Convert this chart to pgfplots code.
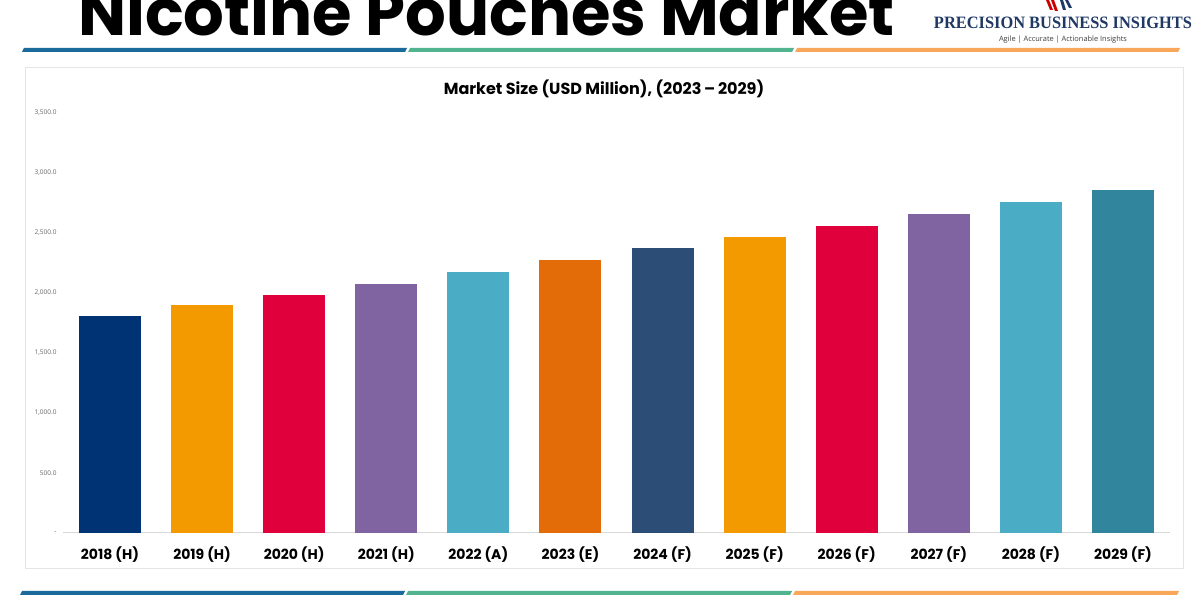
\documentclass[border=0pt]{standalone}
\usepackage{pgfplots}
\pgfplotsset{compat=1.18}
\usepackage{fontspec}
\setmainfont{Poppins}
\newfontfamily\serifb{Liberation Serif}
\newfontfamily\osans{Open Sans}
\definecolor{c1}{HTML}{003373}
\definecolor{c2}{HTML}{F29A00}
\definecolor{c3}{HTML}{E0003C}
\definecolor{c4}{HTML}{8064A2}
\definecolor{c5}{HTML}{4BACC6}
\definecolor{c6}{HTML}{E36C09}
\definecolor{c7}{HTML}{2C4D75}
\definecolor{c12}{HTML}{31859C}
\definecolor{lblue}{HTML}{1B6A9C}
\definecolor{lgreen}{HTML}{52B48E}
\definecolor{lorange}{HTML}{F7A65A}
\definecolor{logonavy}{HTML}{1F3864}
\begin{document}
\begin{tikzpicture}[x=1pt,y=1pt]
\useasboundingbox (0,0) rectangle (1200,600);
\fill[white] (0,0) rectangle (1200,600);
% main title (cut off at top, as in the reference)
\node[anchor=base west,inner sep=0pt,font=\fontsize{64}{70}\selectfont\bfseries] at (78,564) {Nicotine Pouches Market};
% logo
\fill[red!80!black] (1046,600) -- (1050,590) -- (1053,590) -- (1049,600) -- cycle;
\fill[red!80!black] (1051,600) -- (1055,589) -- (1058,589) -- (1054,600) -- cycle;
\fill[logonavy] (1060,600) -- (1063,590) -- (1066,590) -- (1063,600) -- cycle;
\fill[logonavy] (1065,600) -- (1069,592) -- (1072,592) -- (1068,600) -- cycle;
\node[anchor=base,inner sep=0pt,text=logonavy] at (1063,571) {\resizebox{258pt}{11.5pt}{\serifb\bfseries PRECISION BUSINESS INSIGHTS}};
\node[anchor=base,inner sep=0pt,text=black!75] at (1063,558.5) {\resizebox{128pt}{!}{\osans\fontsize{7}{8}\selectfont Agile | Accurate | Actionable Insights}};
% top lines
\fill[lblue] (22,548) -- (405,548) -- (407,552) -- (24,552) -- cycle;
\fill[lgreen] (408,548) -- (792,548) -- (794,552) -- (410,552) -- cycle;
\fill[lorange] (795,548) -- (1178,548) -- (1180,552) -- (797,552) -- cycle;
% bottom lines
\fill[lblue] (20,5) -- (403,5) -- (405,9) -- (22,9) -- cycle;
\fill[lgreen] (406,5) -- (790,5) -- (792,9) -- (408,9) -- cycle;
\fill[lorange] (793,5) -- (1177,5) -- (1179,9) -- (795,9) -- cycle;
% chart box
\draw[black!10,line width=0.8pt] (25,32) rectangle (1183,533);
% chart title
\node[anchor=center,inner sep=0pt,font=\fontsize{16}{18}\selectfont\bfseries] at (604,511) {Market Size (USD Million), (2023\,--\,2029)};
\begin{axis}[
  at={(63pt,67pt)}, anchor=south west,
  scale only axis, width=1107pt, height=420pt,
  xmin=-0.51, xmax=11.51, ymin=0, ymax=3500,
  ybar, bar width=62pt, bar shift=0pt,
  axis x line*=bottom, axis y line*=left,
  x axis line style={draw=black!15,line width=1pt,-},
  y axis line style={draw=none},
  major tick length=0pt,
  xtick={0,...,11},
  xticklabels={2018 (H),2019 (H),2020 (H),2021 (H),2022 (A),2023 (E),2024 (F),2025 (F),2026 (F),2027 (F),2028 (F),2029 (F)},
  xticklabel style={font=\fontsize{14}{16}\selectfont\bfseries, yshift=-10pt},
  ytick={0,500,...,3500},
  yticklabels={-,500.0,{1,000.0},{1,500.0},{2,000.0},{2,500.0},{3,000.0},{3,500.0}},
  yticklabel style={font=\osans\fontsize{6.5}{7}\selectfont, text=black!60, xshift=-3pt},
  clip=false,
]
\addplot[fill=c1,draw=none] coordinates {(0,1808)};
\addplot[fill=c2,draw=none] coordinates {(1,1896)};
\addplot[fill=c3,draw=none] coordinates {(2,1983)};
\addplot[fill=c4,draw=none] coordinates {(3,2075)};
\addplot[fill=c5,draw=none] coordinates {(4,2175)};
\addplot[fill=c6,draw=none] coordinates {(5,2271)};
\addplot[fill=c7,draw=none] coordinates {(6,2375)};
\addplot[fill=c2,draw=none] coordinates {(7,2467)};
\addplot[fill=c3,draw=none] coordinates {(8,2562)};
\addplot[fill=c4,draw=none] coordinates {(9,2662)};
\addplot[fill=c5,draw=none] coordinates {(10,2758)};
\addplot[fill=c12,draw=none] coordinates {(11,2858)};
\end{axis}
\end{tikzpicture}
\end{document}
